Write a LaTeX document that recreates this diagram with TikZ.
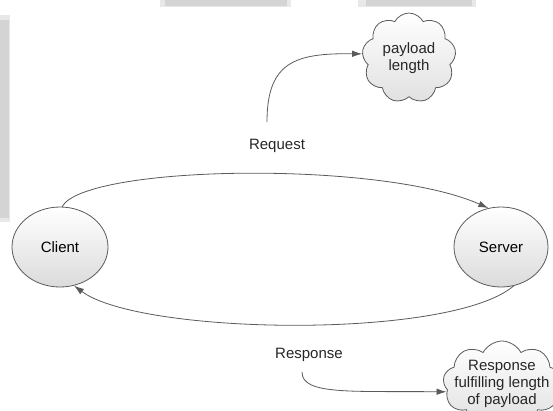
\documentclass[tikz,border=0pt]{standalone}
\usepackage{fontspec}
\setmainfont{Liberation Sans}
\usetikzlibrary{shapes.geometric,shapes.symbols,arrows.meta}
\definecolor{edge}{HTML}{5A5A5A}
\definecolor{barA}{HTML}{D4D4D4}
\definecolor{barB}{HTML}{E8E8E8}
\begin{document}
\begin{tikzpicture}[x=1pt,y=-1pt,
  font=\fontsize{15}{17}\selectfont,
  stateNode/.style={ellipse, draw=edge, line width=0.8pt, top color=white, bottom color=black!14,
    minimum width=96pt, minimum height=80pt, inner sep=0pt},
  cloudNode/.style={cloud, cloud puffs=9, cloud puff arc=125, cloud ignores aspect, draw=edge,
    line width=0.8pt, top color=white, bottom color=black!12, inner sep=0pt},
  cloudText/.style={align=center, inner sep=0pt, text=black!85},
  link/.style={draw=edge, line width=0.8pt, -{Latex[length=10pt,width=6.5pt]}},
  lbl/.style={inner sep=0pt, text=black!85}]
\clip (0,0) rectangle (553,410);
% background panels
\fill[barB] (0,15) rectangle (10,222);
\fill[barA] (0,20) rectangle (9,218);
\fill[barB] (160,0) rectangle (291,7);
\fill[barA] (165,0) rectangle (287,6);
\fill[barB] (358,0) rectangle (476,7);
\fill[barA] (366,0) rectangle (472,6);
% nodes
\node[stateNode] (client) at (60,247) {Client};
\node[stateNode, minimum width=94pt] (server) at (501,247) {Server};
\node[cloudNode, minimum width=94pt, minimum height=90pt,
  label={[cloudText]center:payload\\length}] (pl) at (409,58) {};
\node[cloudNode, minimum width=118pt, minimum height=86pt,
  label={[cloudText]center:Response\\fulfilling length\\of payload}] (rf) at (502,384) {};
\node[lbl] (req) at (277,146) {Request};
\node[lbl] (resp) at (309,355) {Response};
\coordinate (reqStart) at (267,122);
\coordinate (respStart) at (302,372);
% connectors
\draw[link] (client.87) .. controls (85,165) and (380,160) .. (server.108);
\draw[link] (server.-72) .. controls (450,340) and (140,335) .. (client.-70);
\draw[link] (reqStart) .. controls (267,62) and (295,53) .. (pl.175);
\draw[link] (respStart) .. controls (302,395) and (350,391) .. (rf.188);
\end{tikzpicture}
\end{document}
